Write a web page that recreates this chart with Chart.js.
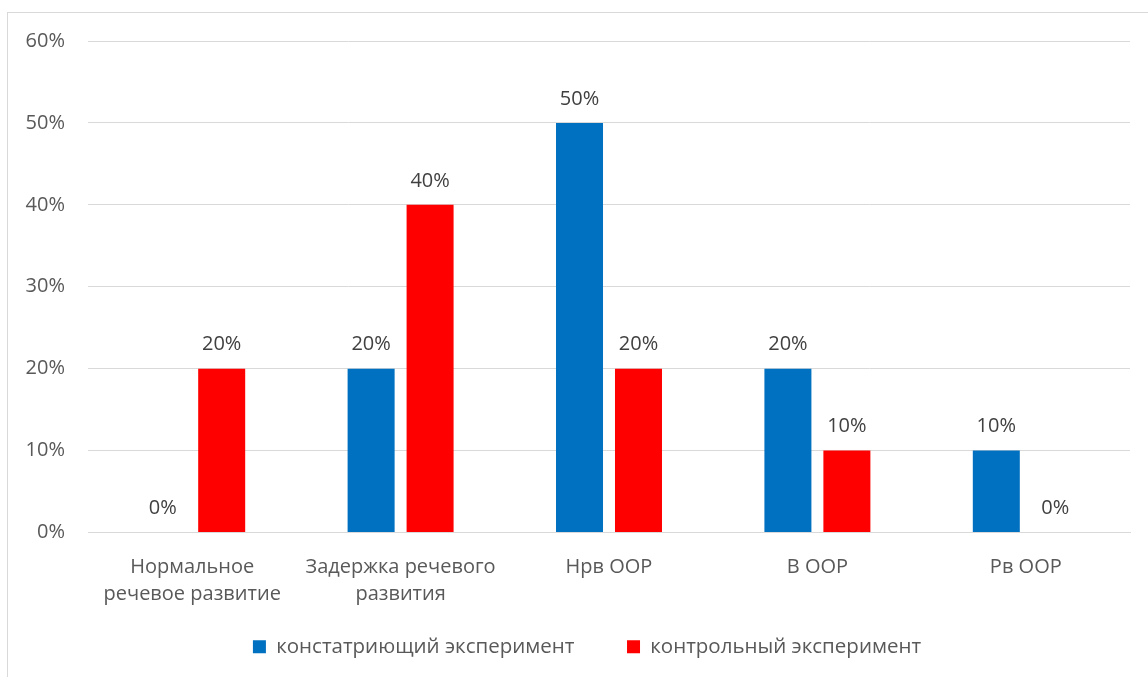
<!DOCTYPE html>
<html>
<head>
<meta charset="utf-8">
<script src="https://cdn.jsdelivr.net/npm/chart.js@4"></script>
<style>
  html, body { margin:0; padding:0; background:#fff; }
  #wrap { position:relative; width:1148px; height:677px; overflow:hidden; }
  #frame { position:absolute; left:7px; top:12px; width:1200px; height:700px;
           border-left:1px solid #d9d9d9; border-top:1px solid #d9d9d9; }
  canvas { position:absolute; left:0; top:0; }
</style>
</head>
<body>
<div id="wrap">
  <div id="frame"></div>
  <canvas id="chart" width="1148" height="677"></canvas>
</div>
<script>
// data
const categories = [
  ['Нормальное', 'речевое развитие'],
  ['Задержка речевого', 'развития'],
  'Нрв ООР',
  'В ООР',
  'Рв ООР'
];
const seriesNames = ['констатриющий эксперимент', 'контрольный эксперимент'];
const ascertaining = [0, 20, 50, 20, 10];
const control = [20, 40, 20, 10, 0];
const yTicks = [0, 10, 20, 30, 40, 50, 60];

const fontFamily = '"Open Sans", "DejaVu Sans", sans-serif';
const textGray = '#595959';

// values above bars
const barLabels = {
  id: 'barLabels',
  afterDatasetsDraw(chart) {
    const ctx = chart.ctx;
    ctx.save();
    ctx.font = '20px ' + fontFamily;
    ctx.fillStyle = '#404040';
    ctx.textAlign = 'center';
    ctx.textBaseline = 'middle';
    chart.data.datasets.forEach((ds, i) => {
      chart.getDatasetMeta(i).data.forEach((bar, j) => {
        ctx.fillText(ds.data[j] + '%', bar.x, bar.y - 24);
      });
    });
    ctx.restore();
  }
};

// nudge the legend so it sits centred on the outer frame like the original
const legendShift = {
  id: 'legendShift',
  afterLayout(chart) {
    chart.legend.left += 10;
    chart.legend.right += 10;
  }
};

new Chart(document.getElementById('chart'), {
  type: 'bar',
  data: {
    labels: categories,
    datasets: [
      { label: seriesNames[0], data: ascertaining, backgroundColor: '#0070C0',
        barPercentage: 0.797, categoryPercentage: 0.566 },
      { label: seriesNames[1], data: control, backgroundColor: '#FF0000',
        barPercentage: 0.797, categoryPercentage: 0.566 }
    ]
  },
  options: {
    responsive: false,
    animation: false,
    layout: { padding: { left: 24, right: 18, top: 41, bottom: 10 } },
    plugins: {
      tooltip: { enabled: false },
      legend: {
        position: 'bottom',
        labels: {
          color: textGray,
          font: { family: fontFamily, size: 20.5 },
          boxWidth: 13,
          boxHeight: 13,
          padding: 10,
          generateLabels(chart) {
            const items = Chart.defaults.plugins.legend.labels.generateLabels(chart);
            // wider gap between the two entries
            items[0].text = items[0].text + '        ';
            return items;
          }
        }
      }
    },
    scales: {
      x: {
        grid: { display: false, drawTicks: false },
        border: { color: '#d9d9d9' },
        ticks: {
          color: textGray,
          font: { family: fontFamily, size: 20, lineHeight: 1.35 },
          padding: 21,
          maxRotation: 0,
          autoSkip: false
        },
        afterFit(scale) { scale.height = 94; }
      },
      y: {
        min: 0,
        max: 60,
        afterBuildTicks(scale) { scale.ticks = yTicks.map(v => ({ value: v })); },
        grid: { color: '#d9d9d9', drawTicks: false },
        border: { display: false },
        ticks: {
          color: textGray,
          font: { family: fontFamily, size: 20 },
          padding: 23,
          callback: v => v + '%'
        },
        afterFit(scale) { scale.width = 64; }
      }
    }
  },
  plugins: [barLabels, legendShift]
});
</script>
</body>
</html>
